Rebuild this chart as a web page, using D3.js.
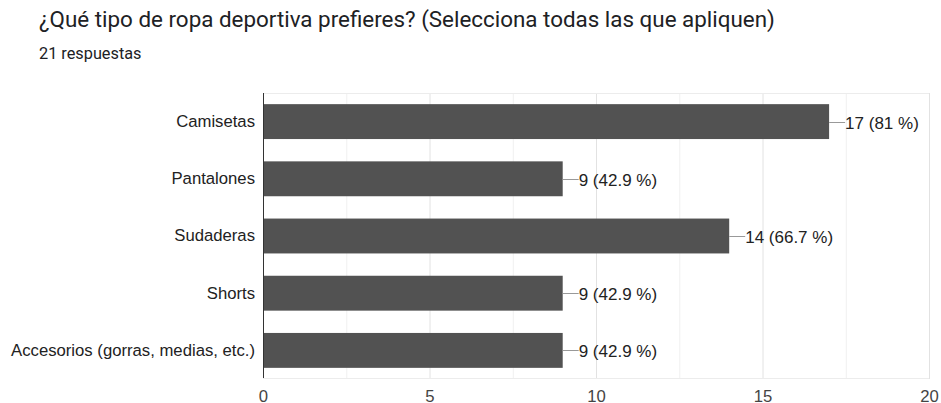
<!DOCTYPE html>
<html>
<head>
<meta charset="utf-8">
<script src="https://cdn.jsdelivr.net/npm/d3@7"></script>
<style>
  html, body { margin: 0; padding: 0; background: #fff; }
  svg { display: block; }
</style>
</head>
<body>
<svg id="chart" width="941" height="403"></svg>
<script>
const title = "¿Qué tipo de ropa deportiva prefieres? (Selecciona todas las que apliquen)";
const subtitle = "21 respuestas";
const categories = ["Camisetas", "Pantalones", "Sudaderas", "Shorts", "Accesorios (gorras, medias, etc.)"];
const counts = [17, 9, 14, 9, 9];
const valueLabels = ["17 (81 %)", "9 (42.9 %)", "14 (66.7 %)", "9 (42.9 %)", "9 (42.9 %)"];
const tickValues = [0, 5, 10, 15, 20];
const gridValues = [2.5, 5, 7.5, 10, 12.5, 15, 17.5, 20];

const svg = d3.select("#chart");
const plot = { left: 263, right: 929, top: 93, bottom: 379 };
const labelFont = "Arial, 'Liberation Sans', sans-serif";

svg.append("text")
  .attr("x", 39).attr("y", 27)
  .attr("font-family", "Roboto, sans-serif")
  .attr("font-size", 22.4)
  .attr("fill", "#202124")
  .text(title);

svg.append("text")
  .attr("x", 39).attr("y", 59)
  .attr("font-family", "Roboto, sans-serif")
  .attr("font-size", 16.3)
  .attr("fill", "#202124")
  .text(subtitle);

const x = d3.scaleLinear().domain([0, 20]).range([plot.left, plot.right]);
const y = d3.scaleBand().domain(categories).range([plot.top, plot.bottom]).paddingInner(0.39).paddingOuter(0.195);

// light grid
svg.append("g").selectAll("line").data(gridValues).join("line")
  .attr("x1", d => x(d) + 0.5).attr("x2", d => x(d) + 0.5)
  .attr("y1", plot.top).attr("y2", plot.bottom)
  .attr("stroke", d => d % 5 === 0 ? "#e2e2e2" : "#f0f0f0")
  .attr("stroke-width", 1);
svg.append("line")
  .attr("x1", plot.left).attr("x2", plot.right)
  .attr("y1", plot.top + 0.5).attr("y2", plot.top + 0.5)
  .attr("stroke", "#ececec");
svg.append("line")
  .attr("x1", plot.left).attr("x2", plot.right)
  .attr("y1", plot.bottom - 0.5).attr("y2", plot.bottom - 0.5)
  .attr("stroke", "#ececec");

// bars
svg.append("g").selectAll("rect").data(categories).join("rect")
  .attr("x", x(0))
  .attr("y", d => y(d))
  .attr("width", (d, i) => x(counts[i]) - x(0))
  .attr("height", y.bandwidth())
  .attr("fill", "#525252");

// leader lines + value labels
const lbl = svg.append("g");
categories.forEach((c, i) => {
  const cy = Math.round(y(c) + y.bandwidth() / 2) + 0.5;
  lbl.append("line")
    .attr("x1", x(counts[i])).attr("x2", x(counts[i]) + 16)
    .attr("y1", cy).attr("y2", cy)
    .attr("stroke", "#999").attr("stroke-width", 1);
  lbl.append("text")
    .attr("x", x(counts[i]) + 16).attr("y", cy)
    .attr("dy", "0.36em")
    .attr("font-family", labelFont)
    .attr("font-size", 17)
    .attr("fill", "#222")
    .text(valueLabels[i]);
});

// category axis
const yAxis = svg.append("g")
  .attr("transform", `translate(${plot.left},0)`)
  .call(d3.axisLeft(y).tickSize(0).tickPadding(8));
yAxis.select(".domain").attr("stroke", "#333").attr("d", `M0.5,${plot.top}V${plot.bottom - 1}`);
yAxis.selectAll("text")
  .attr("font-family", labelFont)
  .attr("font-size", 16.7)
  .attr("fill", "#222");

// value axis
const xAxis = svg.append("g")
  .attr("transform", `translate(0,${plot.bottom})`)
  .call(d3.axisBottom(x).tickValues(tickValues).tickSize(0).tickPadding(11));
xAxis.select(".domain").remove();
xAxis.selectAll("text")
  .attr("font-family", labelFont)
  .attr("font-size", 16.7)
  .attr("fill", "#444");
</script>
</body>
</html>
